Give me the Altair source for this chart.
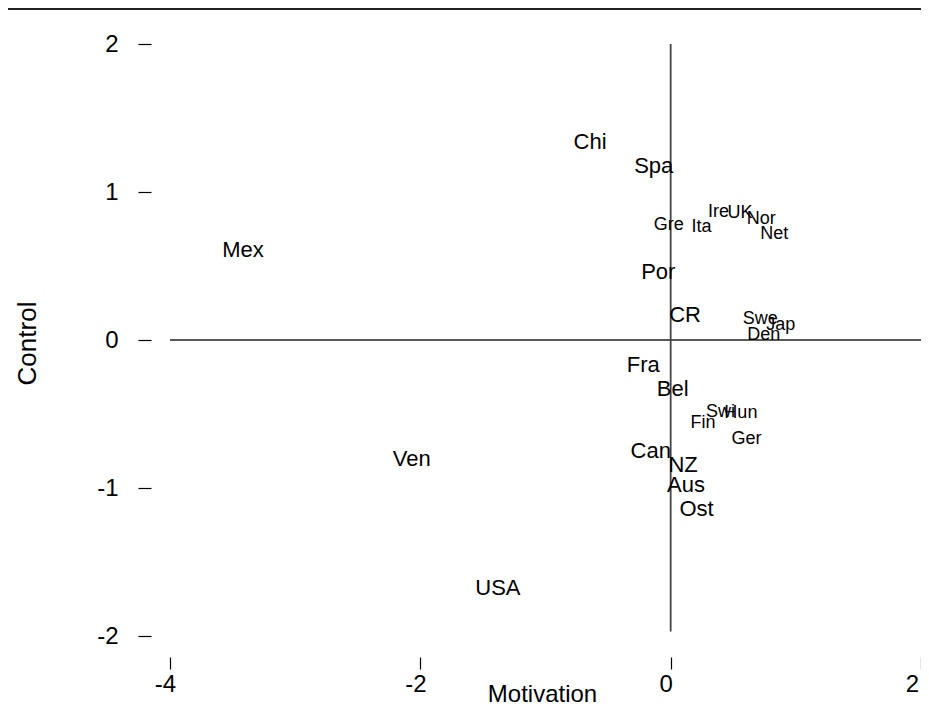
import altair as alt
import pandas as pd

# ---- data ----
countries = ["Chi", "Spa", "Gre", "Ita", "Ire", "UK", "Nor", "Net", "Mex", "Por",
             "CR", "Swe", "Jap", "Den", "Fra", "Bel", "Swi", "Hun", "Fin", "Ger",
             "Can", "NZ", "Aus", "Ost", "Ven", "USA"]
motivation = [-0.644, -0.135, -0.016, 0.247, 0.382, 0.553, 0.724, 0.827, -3.417, -0.099,
              0.115, 0.716, 0.879, 0.744, -0.219, 0.016, 0.398, 0.561, 0.259, 0.605,
              -0.159, 0.099, 0.123, 0.207, -2.068, -1.380]
control = [1.341, 1.176, 0.777, 0.764, 0.865, 0.858, 0.818, 0.713, 0.611, 0.459,
           0.172, 0.145, 0.101, 0.034, -0.169, -0.328, -0.486, -0.493, -0.564, -0.672,
           -0.753, -0.845, -0.980, -1.142, -0.804, -1.679]
small_labels = ["Gre", "Ita", "Ire", "UK", "Nor", "Net", "Swe", "Jap", "Den",
                "Swi", "Hun", "Fin", "Ger"]

x_ticks = [-4, -2, 0, 2]
y_ticks = [-2, -1, 0, 1, 2]
x_domain = [-4, 2]
y_domain = [-2, 2]
vline_y = [2, -1.97]

FONT = "Liberation Sans"

df = pd.DataFrame({"country": countries, "Motivation": motivation, "Control": control})
df["group"] = ["small" if c in small_labels else "large" for c in countries]

xscale = alt.Scale(domain=x_domain, nice=False, zero=False)
yscale = alt.Scale(domain=y_domain, nice=False, zero=False)

xaxis = alt.Axis(values=x_ticks, domain=False, grid=False, tickSize=12, tickColor="black",
                 tickWidth=1.2, offset=21, labelPadding=3, labelFontSize=24, labelFont=FONT,
                 labelColor="black", labelFlush=False, labelOverlap=False,
                 labelOffset={"condition": {"test": "datum.value == 2", "value": -9}, "value": -5},
                 labelExpr="datum.value + ''",
                 title="Motivation", titleFont=FONT, titleFontSize=24, titleFontWeight="normal",
                 titleColor="black", titleX=372, titleY=37, titleBaseline="middle",
                 titleAlign="center")
yaxis = alt.Axis(values=y_ticks, domain=False, grid=False, tickSize=13, tickColor="black",
                 tickWidth=1.2, offset=19, labelPadding=20, labelFontSize=24, labelFont=FONT,
                 labelColor="black", labelFlush=False, labelOverlap=False,
                 labelExpr="datum.value + ''",
                 title="Control", titleFont=FONT, titleFontSize=26, titleFontWeight="normal",
                 titleColor="black", titleX=-124, titleY=299, titleBaseline="middle",
                 titleAlign="center", titleAngle=270)

base = alt.Chart(df)

large = base.transform_filter(alt.datum.group == "large").mark_text(
    font=FONT, fontSize=22, color="black", baseline="middle", align="center"
).encode(
    x=alt.X("Motivation:Q", scale=xscale, axis=xaxis),
    y=alt.Y("Control:Q", scale=yscale, axis=yaxis),
    text="country:N",
)
small = base.transform_filter(alt.datum.group == "small").mark_text(
    font=FONT, fontSize=18, color="black", baseline="middle", align="center"
).encode(
    x=alt.X("Motivation:Q", scale=xscale),
    y=alt.Y("Control:Q", scale=yscale),
    text="country:N",
)

hline = alt.Chart(pd.DataFrame({"x": [x_domain[0]], "x2": [x_domain[1]], "y": [0]})).mark_rule(
    color="#222", strokeWidth=1.5
).encode(x=alt.X("x:Q", scale=xscale), x2="x2:Q", y=alt.Y("y:Q", scale=yscale))

vline = alt.Chart(pd.DataFrame({"x": [0], "y": [vline_y[0]], "y2": [vline_y[1]]})).mark_rule(
    color="#444", strokeWidth=1.8
).encode(x=alt.X("x:Q", scale=xscale), y=alt.Y("y:Q", scale=yscale), y2="y2:Q")

topline = alt.Chart(pd.DataFrame({"a": [0]})).mark_rule(color="#222", strokeWidth=3).encode(
    x=alt.value(-163), x2=alt.value(760), y=alt.value(-35.5)
)

chart = alt.layer(hline, vline, large, small, topline).properties(
    width=751, height=592,
    background="white",
    autosize=alt.AutoSizeParams(type="none"),
    padding={"left": 162, "top": 36, "right": 0, "bottom": 70},
).configure_view(strokeWidth=0, stroke="transparent")

chart.save("out.html", embed_options={"renderer": "svg", "actions": False})
